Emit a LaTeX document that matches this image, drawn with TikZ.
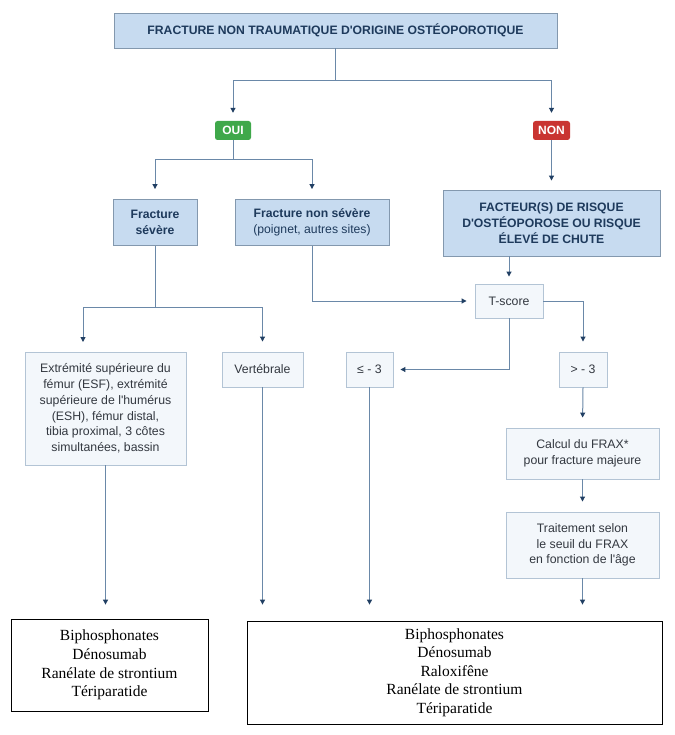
\documentclass[tikz,border=0pt]{standalone}
\usepackage{fontspec}
\setmainfont{Liberation Sans}
\newfontfamily\tnr{Liberation Serif}
\usetikzlibrary{arrows.meta}
\definecolor{linec}{HTML}{6A88A8}
\definecolor{tipc}{HTML}{213F63}
\definecolor{bluef}{HTML}{C7DBF0}
\definecolor{bluebd}{HTML}{8398AE}
\definecolor{lightf}{HTML}{F3F7FB}
\definecolor{lightbd}{HTML}{B3C4D5}
\definecolor{navy}{HTML}{1E3A5C}
\definecolor{txt}{HTML}{333840}
\definecolor{ouig}{HTML}{3FA84A}
\definecolor{nonr}{HTML}{C93431}
\newcommand{\apo}{\textquotesingle}
\begin{document}
\begin{tikzpicture}[x=1pt,y=-1pt,
  bluebox/.style={draw=bluebd, fill=bluef, line width=0.9pt, text=navy, align=center, inner sep=0pt,
    font=\bfseries\fontsize{12.2}{15.7}\selectfont},
  lightbox/.style={draw=lightbd, fill=lightf, line width=0.9pt, text=txt, align=center, inner sep=0pt,
    font=\fontsize{12.3}{15.7}\selectfont},
  badge/.style={rounded corners=2.5pt, text=white, inner sep=0pt, font=\bfseries\fontsize{12}{14}\selectfont},
  resbox/.style={draw=black, line width=0.8pt, fill=white, align=center, inner sep=0pt,
    font=\tnr\fontsize{15.5}{18.6}\selectfont},
  conn/.style={draw=linec, line width=1pt},
  arr/.style={conn, -{Triangle[width=5pt,length=5pt,color=tipc]}, shorten >=9pt}]
\useasboundingbox (0,0) rectangle (674,735);
\fill[white] (0,0) rectangle (674,735);

\node[bluebox, minimum width=443pt, minimum height=35pt] (top) at (335.5,30.5)
  {FRACTURE NON TRAUMATIQUE D\apo ORIGINE OSTÉOPOROTIQUE};
\node[badge, fill=ouig, minimum width=36pt, minimum height=19pt] (oui) at (233,130.5) {OUI};
\node[badge, fill=nonr, minimum width=37pt, minimum height=19pt] (non) at (551.5,130.5) {NON};

\node[bluebox, minimum width=84pt, minimum height=46pt] (fsev) at (155,222.5) {Fracture\\sévère};
\node[bluebox, minimum width=154pt, minimum height=46pt] (fns) at (312,222.5)
  {Fracture non sévère\\{\mdseries(poignet, autres sites)}};
\node[bluebox, minimum width=217pt, minimum height=66pt] (fact) at (551.5,223)
  {FACTEUR(S) DE RISQUE\\D\apo OSTÉOPOROSE OU RISQUE\\ÉLEVÉ DE CHUTE};
\node[lightbox, minimum width=68pt, minimum height=34pt] (tscore) at (509,301) {T-score};

\node[lightbox, minimum width=161pt, minimum height=113pt] (ext) at (105.5,408.5)
  {Extrémité supérieure du\\fémur (ESF), extrémité\\supérieure de l\apo humérus\\(ESH), fémur distal,\\tibia proximal, 3 côtes\\simultanées, bassin};
\node[lightbox, minimum width=81pt, minimum height=35pt] (vert) at (262.5,369.5) {Vertébrale};
\node[lightbox, minimum width=47pt, minimum height=35pt] (le3) at (369.5,369.5) {≤ - 3};
\node[lightbox, minimum width=48pt, minimum height=35pt] (gt3) at (583,369.5) {> - 3};
\node[lightbox, minimum width=153pt, minimum height=51pt] (frax) at (582.5,453.5)
  {Calcul du FRAX*\\pour fracture majeure};
\node[lightbox, minimum width=153pt, minimum height=66pt] (trait) at (582.5,545)
  {Traitement selon\\le seuil du FRAX\\en fonction de l\apo âge};

\node[resbox, minimum width=197pt, minimum height=92pt] (bl) at (109.5,665)
  {Biphosphonates\\Dénosumab\\Ranélate de strontium\\Tériparatide};
\node[resbox, minimum width=415pt, minimum height=103pt] (br) at (454.5,672.5)
  {Biphosphonates\\Dénosumab\\Raloxifêne\\Ranélate de strontium\\Tériparatide};

% connectors
\coordinate (j1) at (335.5,81);
\draw[conn] (top.south) -- (j1);
\draw[arr, shorten >=8pt] (j1) -| (oui.north);
\draw[arr, shorten >=8pt] (j1) -| (non.north);

\coordinate (j2) at (233,160);
\draw[conn] (oui.south) -- (j2);
\draw[arr, shorten >=10pt] (j2) -| (fsev.north);
\draw[arr, shorten >=10pt] (j2) -| (fns.north);

\draw[arr] (non.south) -- (fact.north);
\draw[arr, shorten >=7pt] (tscore.north |- fact.south) -- (tscore.north);
\draw[arr, shorten >=8pt] (fns.south) |- (tscore.west);

\coordinate (j3) at (155,307);
\coordinate (extin) at (83,352);
\draw[conn] (fsev.south) -- (j3);
\draw[arr, shorten >=10pt] (j3) -| (extin);
\draw[arr, shorten >=10pt] (j3) -| (vert.north);

\draw[arr, shorten >=7pt] (tscore.south) |- (le3.east);
\draw[arr, shorten >=10pt] (tscore.east) -| (gt3.north);
\draw[arr, shorten >=10pt] (gt3.south) -- (frax.north);
\draw[arr, shorten >=10pt] (frax.south) -- (trait.north);

\draw[arr, shorten >=14pt] (ext.south) -- (ext.south |- bl.north);
\draw[arr, shorten >=16pt] (vert.south) -- (vert.south |- br.north);
\draw[arr, shorten >=16pt] (le3.south) -- (le3.south |- br.north);
\draw[arr, shorten >=16pt] (trait.south) -- (trait.south |- br.north);
\end{tikzpicture}
\end{document}
